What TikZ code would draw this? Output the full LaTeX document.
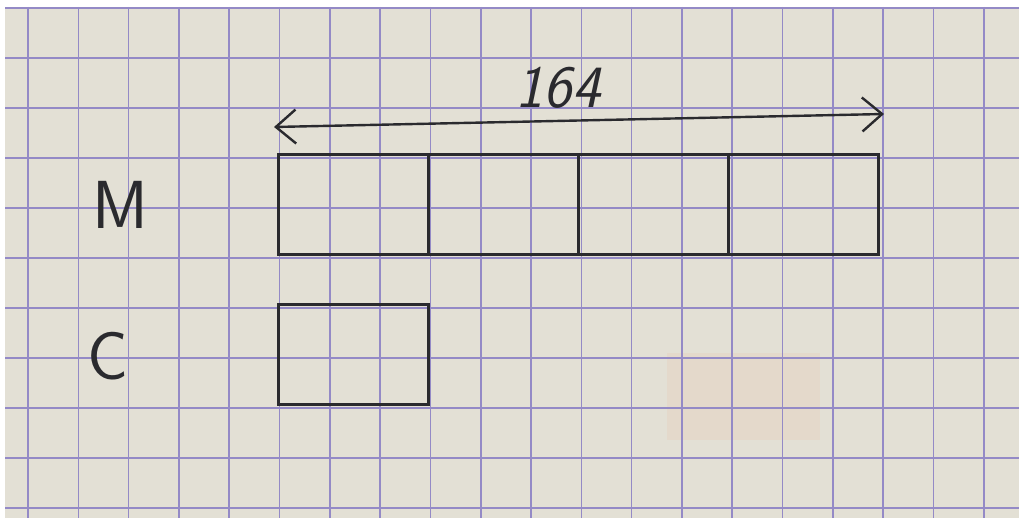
\documentclass[tikz,border=0pt]{standalone}
\usepackage{tikz}
\usetikzlibrary{positioning, arrows.meta}
\definecolor{Paper}{RGB}{227,224,213}
\definecolor{GridLine}{RGB}{148,138,198}
\definecolor{Ink}{RGB}{42,42,46}
\definecolor{BleedOrange}{RGB}{236,196,168}
\tikzset{
  cell/.style={draw=Ink, line width=1.5pt, minimum width=75pt, minimum height=50pt,
    inner sep=0pt, outer sep=0pt},
  letter/.style={text=Ink, inner sep=0pt, font=\sffamily\fontsize{34}{38}\selectfont},
  lenlabel/.style={text=Ink, inner sep=0pt, font=\sffamily\slshape\fontsize{30}{34}\selectfont},
  dimarrow/.style={{Straight Barb[length=10pt,width=17pt]}-{Straight Barb[length=10pt,width=17pt]},
    draw=Ink, line width=1.2pt},
  gridline/.style={draw=GridLine, line width=0.8pt},
}

\begin{document}
\begin{tikzpicture}[x=0.5pt, y=-0.5pt]
  \useasboundingbox (0,0) rectangle (1019,518);
  \fill[white] (0,0) rectangle (1019,518);
  \fill[Paper] (5,7) rectangle (1019,518);
  \fill[BleedOrange, opacity=0.22] (667,353) rectangle (820,440);
  \foreach \k in {0,...,19}
    \draw[gridline] ({28+50.3*\k},7) -- ({28+50.3*\k},518);
  \foreach \k in {0,...,10}
    \draw[gridline] (5,{8+50*\k}) -- (1019,{8+50*\k});

  \node[letter] (mlab) at (120,205) {M};
  \node[letter] (clab) at (108,356) {C};

  \foreach \k in {1,...,4}
    \node[cell] (m\k) at ({203+150*\k},204.5) {};
  \node[cell] (c1) at (353.5,354.5) {};

  \coordinate (lenL) at (274,127);
  \coordinate (lenR) at (884,114);
  \draw[dimarrow] (lenL) -- (lenR);
  \node[lenlabel] (len) at (558,88) {164};
\end{tikzpicture}
\end{document}
